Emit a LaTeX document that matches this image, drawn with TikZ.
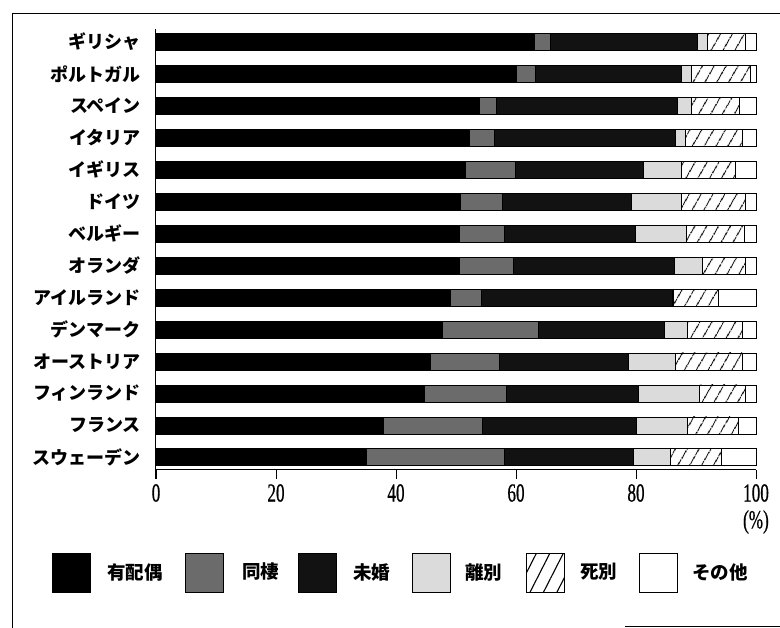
\documentclass[tikz,border=0pt]{standalone}
\usepackage{fontspec}
\usetikzlibrary{patterns.meta}
\newfontfamily\jfont{Noto Sans CJK JP}
\newfontfamily\numfont[FakeStretch=0.66,FakeBold=0.6]{Liberation Serif}
\begin{document}
\begin{tikzpicture}[x=1pt,y=-1pt,
  seg/.style={draw=black, line width=0.7pt},
  married/.style={seg, fill=black},
  cohab/.style={seg, fill=black!58},
  unmar/.style={seg, fill=black!93},
  divor/.style={seg, fill=black!14},
  widow/.style={seg, pattern={Lines[angle=60,distance=10.5pt,line width=1.1pt]}},
  other/.style={seg, fill=white},
  clab/.style={font=\jfont\bfseries\fontsize{18}{20}\selectfont, inner sep=0pt, anchor=east},
  llab/.style={font=\jfont\bfseries\fontsize{18.5}{20}\selectfont, inner sep=0pt, anchor=west},
  tlab/.style={font=\numfont\fontsize{26}{28}\selectfont, inner sep=0pt},
  lbox/.style={seg, minimum width=38pt, minimum height=39pt, inner sep=0pt, anchor=north west}
]
\useasboundingbox (0,0) rectangle (780,628);
% frame
\draw[line width=1pt] (12.5,628) -- (12.5,14) -- (780,14);
\draw[line width=1.2pt] (625,626.5) -- (780,626.5);
% bars
\foreach \lab/\a/\b/\c/\d/\e [count=\i from 0] in {
  ギリシャ/63/65.7/90.2/91.9/98.2,
  ポルトガル/60.1/63.3/87.6/89.3/99.0,
  スペイン/53.9/56.7/86.9/89.3/97.3,
  イタリア/52.2/56.4/86.6/88.3/97.8,
  イギリス/51.5/59.9/81.2/87.6/96.6,
  ドイツ/50.8/57.7/79.2/87.6/98.3,
  ベルギー/50.5/58.1/79.9/88.4/98.0,
  オランダ/50.6/59.6/86.4/91.1/98.3,
  アイルランド/49.0/54.2/86.0/86.3/93.8,
  デンマーク/47.8/63.7/84.8/88.6/97.8,
  オーストリア/45.7/57.2/78.8/86.5/97.7,
  フィンランド/44.8/58.4/80.4/90.5/98.3,
  フランス/37.9/54.4/80.1/88.6/97.0,
  スウェーデン/35.1/58.0/79.5/85.8/94.2}{
  \pgfmathsetmacro\yc{42+31.95*\i}
  \pgfmathsetmacro\yt{\yc-8.5}
  \pgfmathsetmacro\yb{\yc+8.5}
  \node[clab] (n\i) at (141,\yc) {\lab};
  \draw[married] (156,\yt) rectangle ({156+6*\a},\yb);
  \draw[cohab] ({156+6*\a},\yt) rectangle ({156+6*\b},\yb);
  \draw[unmar] ({156+6*\b},\yt) rectangle ({156+6*\c},\yb);
  \draw[divor] ({156+6*\c},\yt) rectangle ({156+6*\d},\yb);
  \draw[widow] ({156+6*\d},\yt) rectangle ({156+6*\e},\yb);
  \draw[other] ({156+6*\e},\yt) rectangle (756,\yb);
}
% axes
\draw[line width=1pt] (155,29) -- (155,479);
\draw[line width=1pt] (155,470) -- (756,470);
\foreach \v [count=\k from 0] in {0,20,40,60,80,100}{
  \draw[line width=1pt] ({156+6*\v},470) -- ({156+6*\v},479);
  \node[tlab] (t\k) at ({156+6*\v},493) {\v};
}
\node[tlab, anchor=east] (pct) at (769,522) {(\%)};
% legend
\node[lbox, fill=black] (b1) at (52,553) {};
\node[llab] (l1) at (107,572) {有配偶};
\node[lbox, fill=black!58] (b2) at (185,553) {};
\node[llab] (l2) at (242,572) {同棲};
\node[lbox, fill=black!93] (b3) at (298,553) {};
\node[llab] (l3) at (353,572) {未婚};
\node[lbox, fill=black!14] (b4) at (412,553) {};
\node[llab] (l4) at (465,572) {離別};
\node[lbox, pattern={Lines[angle=63,distance=12pt,line width=1.1pt]}] (b5) at (526,553) {};
\node[llab] (l5) at (580,572) {死別};
\node[lbox, fill=white] (b6) at (639,553) {};
\node[llab] (l6) at (692,572) {その他};
\end{tikzpicture}
\end{document}
